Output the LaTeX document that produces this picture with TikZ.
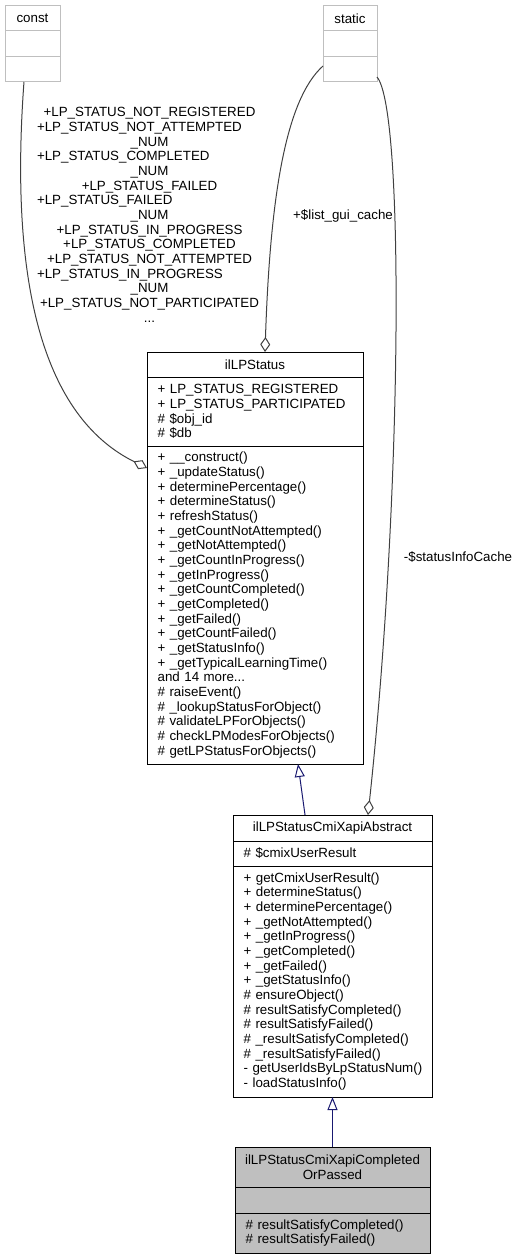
\documentclass[tikz,border=0pt]{standalone}
\usepackage{fontspec}
\setmainfont{Liberation Sans}
\usetikzlibrary{positioning,arrows.meta}
\hyphenpenalty=10000
\exhyphenpenalty=10000
\definecolor{edgegray}{HTML}{404040}
\definecolor{boxgray}{HTML}{BFBFBF}
\definecolor{fillgray}{HTML}{BFBFBF}
\definecolor{navy}{HTML}{191970}
\tikzstyle{part} = [rectangle,draw,outer sep=0pt,inner xsep=8pt,inner ysep=2pt,align=left,font=\fontsize{10}{11}\selectfont]
\tikzstyle{head} = [part,align=center,inner xsep=2pt]
\tikzstyle{faded} = [draw=boxgray]
\tikzstyle{shaded} = [fill=fillgray]
\tikzstyle{assoc} = [draw=edgegray,-{Diamond[open,length=11.25pt,width=7.5pt]}]
\tikzstyle{inherit} = [draw=navy,-{Triangle[open,length=9.75pt,width=7.5pt]}]
\tikzstyle{lbl} = [font=\fontsize{10}{11}\selectfont,inner sep=0pt]

\begin{document}
\begin{tikzpicture}[x=0.75pt,y=-0.75pt,line width=0.75pt]
	\useasboundingbox (0,0) rectangle (518,1259);

	\node[head,faded,minimum width=41.25pt,minimum height=18.75pt,anchor=north west](const) at (5,6) {const};
	\node[part,faded,text width=25.25pt,minimum height=19.5pt,below=0pt of const](constattr) {};
	\node[part,faded,text width=25.25pt,minimum height=18.75pt,below=0pt of constattr](constops) {};

	\node[head,faded,minimum width=40.5pt,minimum height=18.75pt,anchor=north west](static) at (323,6) {static};
	\node[part,faded,text width=24.5pt,minimum height=19.5pt,below=0pt of static](staticattr) {};
	\node[part,faded,text width=24.5pt,minimum height=18.75pt,below=0pt of staticattr](staticops) {};

	\node[head,minimum width=162pt,minimum height=18.75pt,anchor=north west](status) at (147,352) {ilLPStatus};
	\node[part,text width=146pt,minimum height=51.75pt,below=0pt of status](statusattr) {+~LP\_STATUS\_REGISTERED\\+~LP\_STATUS\_PARTICIPATED\\\#~\$obj\_id\\\#~\$db};
	\node[part,text width=146pt,minimum height=238.5pt,below=0pt of statusattr](statusops) {+~\_\_construct()\\+~\_updateStatus()\\+~determinePercentage()\\+~determineStatus()\\+~refreshStatus()\\+~\_getCountNotAttempted()\\+~\_getNotAttempted()\\+~\_getCountInProgress()\\+~\_getInProgress()\\+~\_getCountCompleted()\\+~\_getCompleted()\\+~\_getFailed()\\+~\_getCountFailed()\\+~\_getStatusInfo()\\+~\_getTypicalLearningTime()\\and 14 more...\\\#~raiseEvent()\\\#~\_lookupStatusForObject()\\\#~validateLPForObjects()\\\#~checkLPModesForObjects()\\\#~getLPStatusForObjects()};

	\node[head,minimum width=149.25pt,minimum height=19.5pt,anchor=north west](abstract) at (233,815) {ilLPStatusCmiXapiAbstract};
	\node[part,text width=133.25pt,minimum height=18.75pt,below=0pt of abstract](abstractattr) {\#~\$cmixUserResult};
	\node[part,text width=133.25pt,minimum height=173.25pt,below=0pt of abstractattr](abstractops) {+~getCmixUserResult()\\+~determineStatus()\\+~determinePercentage()\\+~\_getNotAttempted()\\+~\_getInProgress()\\+~\_getCompleted()\\+~\_getFailed()\\+~\_getStatusInfo()\\\#~ensureObject()\\\#~resultSatisfyCompleted()\\\#~resultSatisfyFailed()\\\#~\_resultSatisfyCompleted()\\\#~\_resultSatisfyFailed()\\\mbox{-~getUserIdsByLpStatusNum()}\\\mbox{-~loadStatusInfo()}};

	\node[head,shaded,minimum width=146.25pt,minimum height=30pt,anchor=north west](passed) at (235,1147) {ilLPStatusCmiXapiCompleted\\OrPassed};
	\node[part,shaded,text width=130.25pt,minimum height=19.5pt,below=0pt of passed](passedattr) {};
	\node[part,shaded,text width=130.25pt,minimum height=30pt,below=0pt of passedattr](passedops) {\#~resultSatisfyCompleted()\\\#~resultSatisfyFailed()};

	\node[lbl,text width=168.75pt,align=center](constlabel) at (149.5,215) {+LP\_STATUS\_NOT\_REGISTERED\\\makebox[\linewidth][l]{+LP\_STATUS\_NOT\_ATTEMPTED}\\\_NUM\\\makebox[\linewidth][l]{+LP\_STATUS\_COMPLETED}\\\_NUM\\+LP\_STATUS\_FAILED\\\makebox[\linewidth][l]{+LP\_STATUS\_FAILED}\\\_NUM\\+LP\_STATUS\_IN\_PROGRESS\\+LP\_STATUS\_COMPLETED\\+LP\_STATUS\_NOT\_ATTEMPTED\\\makebox[\linewidth][l]{+LP\_STATUS\_IN\_PROGRESS}\\\_NUM\\+LP\_STATUS\_NOT\_PARTICIPATED\\...};
	\node[lbl](cachelabel) at (343,216) {+\$list\_gui\_cache};
	\node[lbl](infolabel) at (458,557) {-\$statusInfoCache};

	\draw[assoc] ([xshift=-6.4pt]constops.south) .. controls (8,300) and (50,420) .. ([yshift=-16.5pt]statusops.north west);
	\draw[assoc] ([yshift=-6.75pt]staticops.north west) .. controls (285,100) and (270,200) .. ([xshift=7.5pt]status.north);
	\draw[assoc] ([yshift=3.75pt]staticops.south east) .. controls (405,110) and (402,500) .. ([xshift=26.6pt]abstract.north);
	\draw[inherit] ([xshift=-20.6pt]abstract.north) -- ([xshift=32.25pt]statusops.south);
	\draw[inherit] (passed.north) -- (abstractops.south);

\end{tikzpicture}
\end{document}
